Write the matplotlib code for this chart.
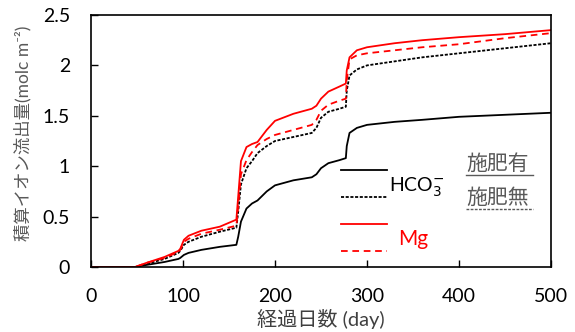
import matplotlib.pyplot as plt
from matplotlib.lines import Line2D

plt.rcParams['font.family'] = ['Lato', 'Noto Sans CJK JP', 'DejaVu Sans']

# days since start
days = [0, 48, 60, 80, 95, 97, 101, 106, 120, 140, 158, 160, 163, 169, 175, 181,
        191, 200, 220, 240, 245, 250, 258, 270, 277, 278, 281, 289, 300, 330,
        360, 400, 450, 500]

# HCO3- with fertiliser (solid black)
hco3_fert = [0, 0, 0.02, 0.05, 0.08, 0.09, 0.12, 0.14, 0.17, 0.20, 0.22, 0.30, 0.45,
             0.58, 0.63, 0.66, 0.75, 0.81, 0.86, 0.89, 0.92, 0.98, 1.03, 1.06, 1.08,
             1.20, 1.33, 1.38, 1.41, 1.44, 1.46, 1.49, 1.51, 1.53]
# HCO3- without fertiliser (dashed black)
hco3_nofert = [0, 0, 0.03, 0.08, 0.14, 0.16, 0.22, 0.25, 0.30, 0.35, 0.39, 0.55, 0.82,
               0.98, 1.05, 1.13, 1.20, 1.25, 1.29, 1.33, 1.38, 1.48, 1.54, 1.57, 1.59,
               1.75, 1.90, 1.96, 2.00, 2.04, 2.08, 2.12, 2.17, 2.22]
# Mg with fertiliser (solid red)
mg_fert = [0, 0, 0.04, 0.10, 0.16, 0.18, 0.27, 0.31, 0.36, 0.40, 0.47, 0.70, 1.05,
           1.19, 1.22, 1.24, 1.36, 1.45, 1.52, 1.57, 1.60, 1.67, 1.74, 1.79, 1.82,
           1.95, 2.08, 2.15, 2.18, 2.22, 2.25, 2.28, 2.31, 2.35]
# Mg without fertiliser (dashed red)
mg_nofert = [0, 0, 0.04, 0.09, 0.15, 0.17, 0.25, 0.28, 0.33, 0.37, 0.41, 0.60, 0.92,
             1.06, 1.14, 1.21, 1.27, 1.31, 1.36, 1.41, 1.46, 1.55, 1.61, 1.65, 1.67,
             1.85, 2.06, 2.10, 2.12, 2.15, 2.18, 2.21, 2.27, 2.32]

fig = plt.figure(figsize=(5.75, 3.32), dpi=100)
ax = fig.add_axes([91 / 575, 65 / 332, 460 / 575, 252 / 332])

l1, = ax.plot(days, hco3_fert, color='black', lw=1.3)
l2, = ax.plot(days, hco3_nofert, color='black', lw=1.3, linestyle=(0, (1.7, 0.9)))
l3, = ax.plot(days, mg_fert, color='red', lw=1.3)
l4, = ax.plot(days, mg_nofert, color='red', lw=1.3, linestyle=(0, (3.7, 2.6)))

ax.set_xlim(0, 500)
ax.set_ylim(0, 2.5)
ax.set_xticks([0, 100, 200, 300, 400, 500])
ax.set_yticks([0, 0.5, 1, 1.5, 2, 2.5])
ax.set_yticklabels(['0', '0.5', '1', '1.5', '2', '2.5'])
ax.tick_params(direction='in', length=5, labelsize=14, width=1)
ax.tick_params(axis='x', pad=15)
ax.tick_params(axis='y', pad=15)
for s in ax.spines.values():
    s.set_linewidth(1.2)

ax.set_xlabel('経過日数 (day)', fontsize=14.5, color='#404040')
ax.xaxis.set_label_coords(0.5, -0.165)
ax.set_ylabel('積算イオン流出量(molc m⁻²)', fontsize=12.5, color='#595959')
ax.yaxis.set_label_coords(-0.13, 0.53)

leg = ax.legend([l1, l2, l3, l4], ['', '', '', ''], loc='upper left',
                bbox_to_anchor=(0.513, 0.46), frameon=False, handlelength=3.0,
                labelspacing=0.84, fontsize=11, handletextpad=0)

ax.text(0.648, 0.315, 'HCO$_3^{-}$', transform=ax.transAxes, fontsize=14,
        va='center', ha='left')
ax.text(0.667, 0.11, 'Mg', transform=ax.transAxes, fontsize=15, color='red',
        va='center', ha='left')
ax.text(0.815, 0.41, '施肥有', transform=ax.transAxes, fontsize=15, color='#595959',
        va='center', ha='left')
ax.text(0.815, 0.275, '施肥無', transform=ax.transAxes, fontsize=15, color='#595959',
        va='center', ha='left')
ax.add_line(Line2D([0.815, 0.96], [0.365, 0.365], transform=ax.transAxes,
                   color='#595959', lw=1))
ax.add_line(Line2D([0.815, 0.96], [0.23, 0.23], transform=ax.transAxes,
                   color='#595959', lw=1, linestyle=(0, (2, 1))))

fig.savefig('out.png', dpi=100)
